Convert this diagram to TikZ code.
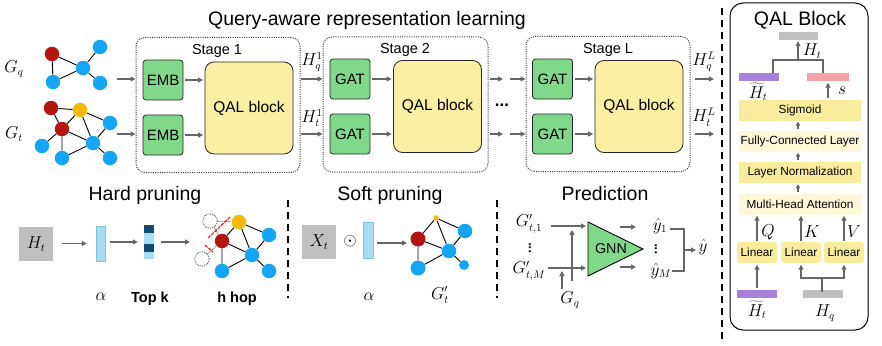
\documentclass[tikz,border=0pt]{standalone}
\usepackage{fontspec}
\setmainfont{Liberation Sans}
\usetikzlibrary{arrows.meta}
\definecolor{qred}{HTML}{B2160E}
\definecolor{qblue}{HTML}{14A5F5}
\definecolor{qorange}{HTML}{F7B80A}
\definecolor{qgreen}{HTML}{80D88B}
\definecolor{qyel}{HTML}{FAEFA2}
\definecolor{pyel}{HTML}{F9EC9C}
\definecolor{pyellight}{HTML}{FEF8D8}
\definecolor{agray}{HTML}{666666}
\definecolor{bgray}{HTML}{BFBFBF}
\definecolor{qpurple}{HTML}{A783D8}
\definecolor{qpink}{HTML}{F5A3A8}
\definecolor{lblue}{HTML}{A7DCF2}
\definecolor{lbluedark}{HTML}{7EC3E3}
\definecolor{navy}{HTML}{0F4B73}
\begin{document}
\begin{tikzpicture}[x=1pt,y=-1pt,
 arr/.style={draw=agray, line width=1.3pt, -{Triangle[length=5pt,width=5pt]}},
 sarr/.style={draw=agray, line width=1.2pt, -{Triangle[length=4pt,width=4.5pt]}},
 gln/.style={draw=agray, line width=1.3pt},
 gbox/.style={draw=black!85, line width=0.8pt, fill=qgreen, rounded corners=3pt, minimum width=40pt, minimum height=40pt, inner sep=0pt, font=\fontsize{15}{17}\selectfont},
 qalbox/.style={draw=black!85, line width=0.8pt, fill=qyel, rounded corners=9pt, minimum width=88pt, minimum height=92pt, inner sep=0pt, font=\fontsize{15.5}{18}\selectfont},
 stagebox/.style={draw=black!80, line width=1pt, dash pattern=on 1pt off 1.3pt, rounded corners=9pt, inner sep=0pt, minimum width=164pt, minimum height=135pt},
 stagelbl/.style={font=\fontsize{14.5}{17}\selectfont, anchor=base},
 ttl/.style={font=\fontsize{19.5}{22}\selectfont, anchor=base},
 mlbl/.style={font=\fontsize{16}{18}\selectfont, inner sep=0pt},
 vdotlbl/.style={font=\bfseries\fontsize{13}{15}\selectfont, inner sep=0pt},
 vn/.style={circle, inner sep=0pt, minimum size=14.5pt},
 rn/.style={vn, fill=qred}, bn/.style={vn, fill=qblue}, yn/.style={vn, fill=qorange},
 dn/.style={vn, draw=black!70, dash pattern=on 1pt off 1pt, line width=0.8pt},
 ge/.style={draw=black, line width=0.9pt},
 de/.style={draw=black!60, line width=0.9pt, dash pattern=on 1pt off 1pt},
 pbox/.style={inner sep=0pt, minimum width=122pt, minimum height=21pt, font=\fontsize{11.8}{14}\selectfont},
 linbox/.style={fill=pyel, rounded corners=3pt, inner sep=0pt, minimum width=40pt, minimum height=21pt, font=\fontsize{11.8}{14}\selectfont},
 flatbar/.style={inner sep=0pt, minimum width=40pt, minimum height=8pt},
 sepline/.style={draw=black, line width=1.4pt, dash pattern=on 7pt off 5pt},
 sqbox/.style={fill=bgray, inner sep=0pt, minimum size=34pt, font=\fontsize{16}{18}\selectfont},
 vbar/.style={fill=lblue, draw=lbluedark, line width=0.5pt, inner sep=0pt, minimum width=9pt, minimum height=35pt},
 boldlbl/.style={font=\bfseries\fontsize{14.5}{17}\selectfont, anchor=base}
]
\useasboundingbox (0,0) rectangle (882,345);

% ---------------- title
\node[ttl] (title) at (367,26) {Query-aware representation learning};

% ---------------- G_q graph
\node[rn] (q1) at (52,54) {};
\node[bn] (q2) at (100,47) {};
\node[bn] (q3) at (83,68) {};
\node[bn] (q4) at (53,82) {};
\node[bn] (q5) at (100,83) {};
\draw[ge] (q1)--(q3) (q1)--(q4) (q4)--(q3) (q3)--(q2) (q3)--(q5);
\node[mlbl] (lgq) at (14,69) {$G_q$};

% ---------------- G_t graph
\node[rn] (t1) at (51,108) {};
\node[yn] (t2) at (80,110) {};
\node[rn] (t3) at (62,129) {};
\node[bn] (t4) at (110,123) {};
\node[bn] (t5) at (93,143) {};
\node[bn] (t6) at (42,146) {};
\node[bn] (t7) at (62,158) {};
\node[bn] (t8) at (110,158) {};
\draw[ge] (t1)--(t2) (t1)--(t3) (t2)--(t3) (t2)--(t5) (t2)--(t4) (t3)--(t5) (t3)--(t6) (t3)--(t7) (t7)--(t5) (t5)--(t4) (t5)--(t8);
\node[mlbl] (lgt) at (14,134) {$G_t$};

% ---------------- stages
\node[stagebox] (s1) at (218,105) {};
\node[stagebox, minimum width=165pt] (s2) at (405.5,104.5) {};
\node[stagebox] (sL) at (608,104) {};
\node[stagelbl] (st1) at (217,55) {Stage 1};
\node[stagelbl] (st2) at (405,53) {Stage 2};
\node[stagelbl] (stL) at (608,53) {Stage L};

\node[gbox] (e1) at (163,80) {EMB};
\node[gbox] (e2) at (163,135) {EMB};
\node[qalbox] (qb1) at (249,108) {QAL block};
\node[gbox] (g21) at (350,79) {GAT};
\node[gbox] (g22) at (350,134) {GAT};
\node[qalbox] (qb2) at (437.5,106.5) {QAL block};
\node[gbox] (gL1) at (552.5,79) {GAT};
\node[gbox] (gL2) at (552.5,134) {GAT};
\node[qalbox] (qbL) at (639,106.5) {QAL block};

% inputs
\coordinate (gqo) at (117,79);
\coordinate (gto) at (117,134);
\draw[arr] (gqo) -- (s1.west |- gqo);
\draw[arr] (gto) -- (s1.west |- gto);
% inside stages
\draw[arr, shorten >=1.5pt] ([xshift=2pt]e1.east) -- (qb1.west |- e1);
\draw[arr, shorten >=1.5pt] ([xshift=2pt]e2.east) -- (qb1.west |- e2);
\draw[arr, shorten >=1.5pt] ([xshift=2pt]g21.east) -- (qb2.west |- g21);
\draw[arr, shorten >=1.5pt] ([xshift=2pt]g22.east) -- (qb2.west |- g22);
\draw[arr, shorten >=1.5pt] ([xshift=2pt]gL1.east) -- (qbL.west |- gL1);
\draw[arr, shorten >=1.5pt] ([xshift=2pt]gL2.east) -- (qbL.west |- gL2);
% between stages
\draw[arr] (s1.east |- g21) -- (s2.west |- g21);
\draw[arr] (s1.east |- g22) -- (s2.west |- g22);
\node[mlbl] (h1q) at (312,62) {$H_q^1$};
\node[mlbl] (h1t) at (312,118) {$H_t^1$};
\coordinate (da1) at (490,79); \coordinate (da2) at (503,79); \coordinate (db1) at (510,79);
\coordinate (dc1) at (490,134); \coordinate (dc2) at (503,134); \coordinate (dd1) at (510,134);
\draw[arr] (da1) -- (da2);
\draw[arr] (db1) -- (sL.west |- db1);
\draw[arr] (dc1) -- (dc2);
\draw[arr] (dd1) -- (sL.west |- dd1);
\node[font=\bfseries\fontsize{17}{19}\selectfont, inner sep=0pt] (ell) at (502,105) {...};
% outputs
\coordinate (oq) at (714,79);
\coordinate (ot) at (714,134);
\draw[arr] ([xshift=4pt]sL.east |- oq) -- (oq);
\draw[arr] ([xshift=4pt]sL.east |- ot) -- (ot);
\node[mlbl] (hLq) at (704,62) {$H_q^L$};
\node[mlbl] (hLt) at (704,117) {$H_t^L$};

% ---------------- separators
\coordinate (sepa1) at (722,8); \coordinate (sepa2) at (722,343);
\draw[sepline] (sepa1) -- (sepa2);
\coordinate (sepb1) at (288,200); \coordinate (sepb2) at (288,298);
\draw[sepline] (sepb1) -- (sepb2);
\coordinate (sepc1) at (497,200); \coordinate (sepc2) at (497,298);
\draw[sepline] (sepc1) -- (sepc2);

% ---------------- QAL Block panel
\node[draw=black, line width=1pt, rounded corners=13pt, minimum width=138pt, minimum height=327pt, inner sep=0pt] (panel) at (799,166.5) {};
\node[ttl] (ptitle) at (800,26) {QAL Block};
\node[flatbar, fill=bgray, minimum width=39pt] (htbar) at (798.5,36) {};
\node[flatbar, fill=qpurple] (pbar1) at (759,77) {};
\node[flatbar, fill=qpink, minimum width=42pt] (pinkbar) at (828,77) {};
\coordinate (brl) at (773,60); \coordinate (brr) at (823,60); \coordinate (brm) at (798,60);
\draw[gln] (pbar1.north -| brl) -- (brl) -- (brr) -- (pinkbar.north -| brr);
\draw[arr, shorten >=1pt] (brm) -- (htbar.south -| brm);
\node[mlbl] (lht) at (812,51) {$H_t$};
\node[mlbl] (lhtt) at (758,92) {$\widetilde{H}_t$};

\node[pbox, fill=pyel] (sig) at (800,110) {Sigmoid};
\node[pbox, fill=pyellight] (fcl) at (800,141) {Fully-Connected Layer};
\node[pbox, fill=pyel] (lnorm) at (800,172.5) {Layer Normalization};
\node[pbox, fill=pyellight] (mha) at (800,204) {Multi-Head Attention};
\draw[arr, shorten <=1pt, shorten >=1.5pt] (sig.north -| pinkbar) -- (pinkbar.south);
\node[mlbl] (ls) at (842,91) {$s$};
\draw[sarr, shorten <=1.5pt, shorten >=1pt] ([xshift=-2pt]fcl.north) -- ([xshift=-2pt]sig.south);
\draw[sarr, shorten <=1.5pt, shorten >=1pt] ([xshift=-2pt]lnorm.north) -- ([xshift=-2pt]fcl.south);
\draw[sarr, shorten <=1.5pt, shorten >=1pt] ([xshift=-2pt]mha.north) -- ([xshift=-2pt]lnorm.south);

\node[linbox] (lin1) at (757,252.5) {Linear};
\node[linbox] (lin2) at (801,252.5) {Linear};
\node[linbox] (lin3) at (844,252.5) {Linear};
\draw[arr, shorten <=1pt, shorten >=1pt] (lin1.north) -- (lin1.north |- mha.south);
\draw[arr, shorten <=1pt, shorten >=1pt] (lin2.north) -- (lin2.north |- mha.south);
\draw[arr, shorten <=1pt, shorten >=1pt] (lin3.north) -- (lin3.north |- mha.south);
\node[mlbl] (lq) at (768,232) {$Q$};
\node[mlbl] (lk) at (812,232) {$K$};
\node[mlbl] (lv) at (854,232) {$V$};

\node[flatbar, fill=qpurple] (pbar2) at (757,294) {};
\node[flatbar, fill=bgray] (gbar2) at (823,294) {};
\draw[arr, shorten <=2pt, shorten >=1.5pt] (pbar2.north) -- (lin1.south);
\coordinate (bk) at (822,278);
\draw[gln] ([yshift=-2pt]gbar2.north -| bk) -- (bk);
\draw[arr, shorten >=1.5pt] (bk) -- (lin2.south |- bk) -- (lin2.south);
\draw[arr, shorten >=1.5pt] (bk) -- (lin3.south |- bk) -- (lin3.south);
\node[mlbl] (lhtb) at (757,310) {$\widetilde{H}_t$};
\node[mlbl] (lhq) at (825,313) {$H_q$};

% ---------------- Hard pruning
\node[ttl] (hptitle) at (145,200) {Hard pruning};
\node[sqbox] (htbox) at (36,244) {$H_t$};
\node[vbar] (a1) at (100.5,243.5) {};
\node[vbar, minimum width=10pt, minimum height=34pt, draw=none] (topk) at (149,242) {};
\fill[navy] (144,225) rectangle (154,233);
\fill[navy] (144,244) rectangle (154,252);
\draw[arr] ([xshift=9pt]htbox.east |- a1) -- ([xshift=-9pt]a1.west);
\draw[arr] ([xshift=5pt]a1.east |- topk) -- ([xshift=-6pt]topk.west);
\coordinate (hin) at (190,242);
\draw[arr] ([xshift=7pt]topk.east) -- (hin);
\node[mlbl] (la1) at (101,297) {$\alpha$};
\node[boldlbl] (ltopk) at (150,302) {Top k};
\node[boldlbl] (lhhop) at (237,302) {h hop};

\node[dn] (c1) at (210,221) {};
\node[dn] (c2) at (202,259) {};
\node[yn] (hy) at (239,222) {};
\node[rn] (hr) at (222,241) {};
\node[bn] (hb1) at (269,235) {};
\node[bn] (hb2) at (252,255) {};
\node[bn] (hb3) at (222,271) {};
\node[bn] (hb4) at (269,271) {};
\draw[de] (c1)--(hy) (c1)--(hr) (c2)--(hr);
\draw[ge] (hr)--(hy) (hy)--(hb2) (hy)--(hb1) (hr)--(hb2) (hr)--(hb3) (hb3)--(hb2) (hb2)--(hb1) (hb2)--(hb4);
\draw[red, line width=1pt, dash pattern=on 3.5pt off 1pt] (208,238) -- (230,217);
\draw[red, line width=1pt, dash pattern=on 3.5pt off 1pt] (205,245) -- (213,252);

% ---------------- Soft pruning
\node[ttl] (sptitle) at (390,200) {Soft pruning};
\node[sqbox] (xt) at (319,242) {$X_t$};
\node[mlbl] (odot) at (350,241) {$\odot$};
\node[vbar, minimum width=10pt, minimum height=36pt] (a2) at (368,240) {};
\node[mlbl] (la2) at (369,297) {$\alpha$};
\coordinate (sin) at (407,243);
\draw[arr] ([xshift=4pt]a2.east |- sin) -- (sin);
\node[yn, minimum size=5.5pt] (sy) at (436,218) {};
\node[rn, minimum size=15pt] (sr) at (418,239) {};
\node[bn] (sb1) at (465,231) {};
\node[bn] (sb2) at (449,251) {};
\node[bn, minimum size=15pt] (sb3) at (418,268) {};
\node[bn, minimum size=10pt] (sb4) at (464,265) {};
\draw[ge] (sy)--(sr) (sy)--(sb2) (sy)--(sb1) (sr)--(sb2) (sr)--(sb3) (sb3)--(sb2) (sb2)--(sb1) (sb2)--(sb4);
\node[mlbl] (lgtp) at (440,295) {$G'_t$};

% ---------------- Prediction
\node[ttl] (prtitle) at (605,200) {Prediction};
\node[mlbl] (lg1) at (529,224) {$G'_{t,1}$};
\node[vdotlbl] (lgd) at (530,248) {\rotatebox{90}{...}};
\node[mlbl] (lgm) at (529,271) {$G'_{t,M}$};
\coordinate (tri1) at (588,222);
\coordinate (tri2) at (643,249);
\coordinate (tri3) at (588,276);
\draw[draw=black, line width=0.9pt, fill=qgreen] (tri1) -- (tri2) -- (tri3) -- cycle;
\node[font=\fontsize{14.3}{16}\selectfont] (gnn) at (611,249) {GNN};
\coordinate (p1in) at (586,226);
\coordinate (pmin) at (586,268);
\draw[arr] (551,226) -- (p1in);
\draw[arr] (548,268) -- (pmin);
\node[mlbl] (lgq2) at (570,300) {$G_q$};
\coordinate (v1a) at (572,281); \coordinate (v1b) at (572,230);
\coordinate (v2a) at (562,289); \coordinate (v2b) at (562,271);
\draw[arr] (v1a) -- (v1b);
\draw[arr] (v2a) -- (v2b);
\coordinate (o1a) at (620,227); \coordinate (o1b) at (636,227);
\coordinate (o2a) at (620,267); \coordinate (o2b) at (636,267);
\draw[arr] (o1a) -- (o1b);
\draw[arr] (o2a) -- (o2b);
\node[mlbl] (ly1) at (660,226) {$\hat{y}_1$};
\node[vdotlbl] (lyd) at (656,249) {\rotatebox{90}{...}};
\node[mlbl] (lym) at (661,271) {$\hat{y}_M$};
\coordinate (bt) at (684,229); \coordinate (bb) at (684,271); \coordinate (bmid) at (684,250);
\draw[gln] (670,229) -- (bt) -- (bb) -- (672,271);
\coordinate (yin) at (696,250);
\draw[arr] (bmid) -- (yin);
\node[mlbl] (ly) at (703,247) {$\hat{y}$};
\end{tikzpicture}
\end{document}
